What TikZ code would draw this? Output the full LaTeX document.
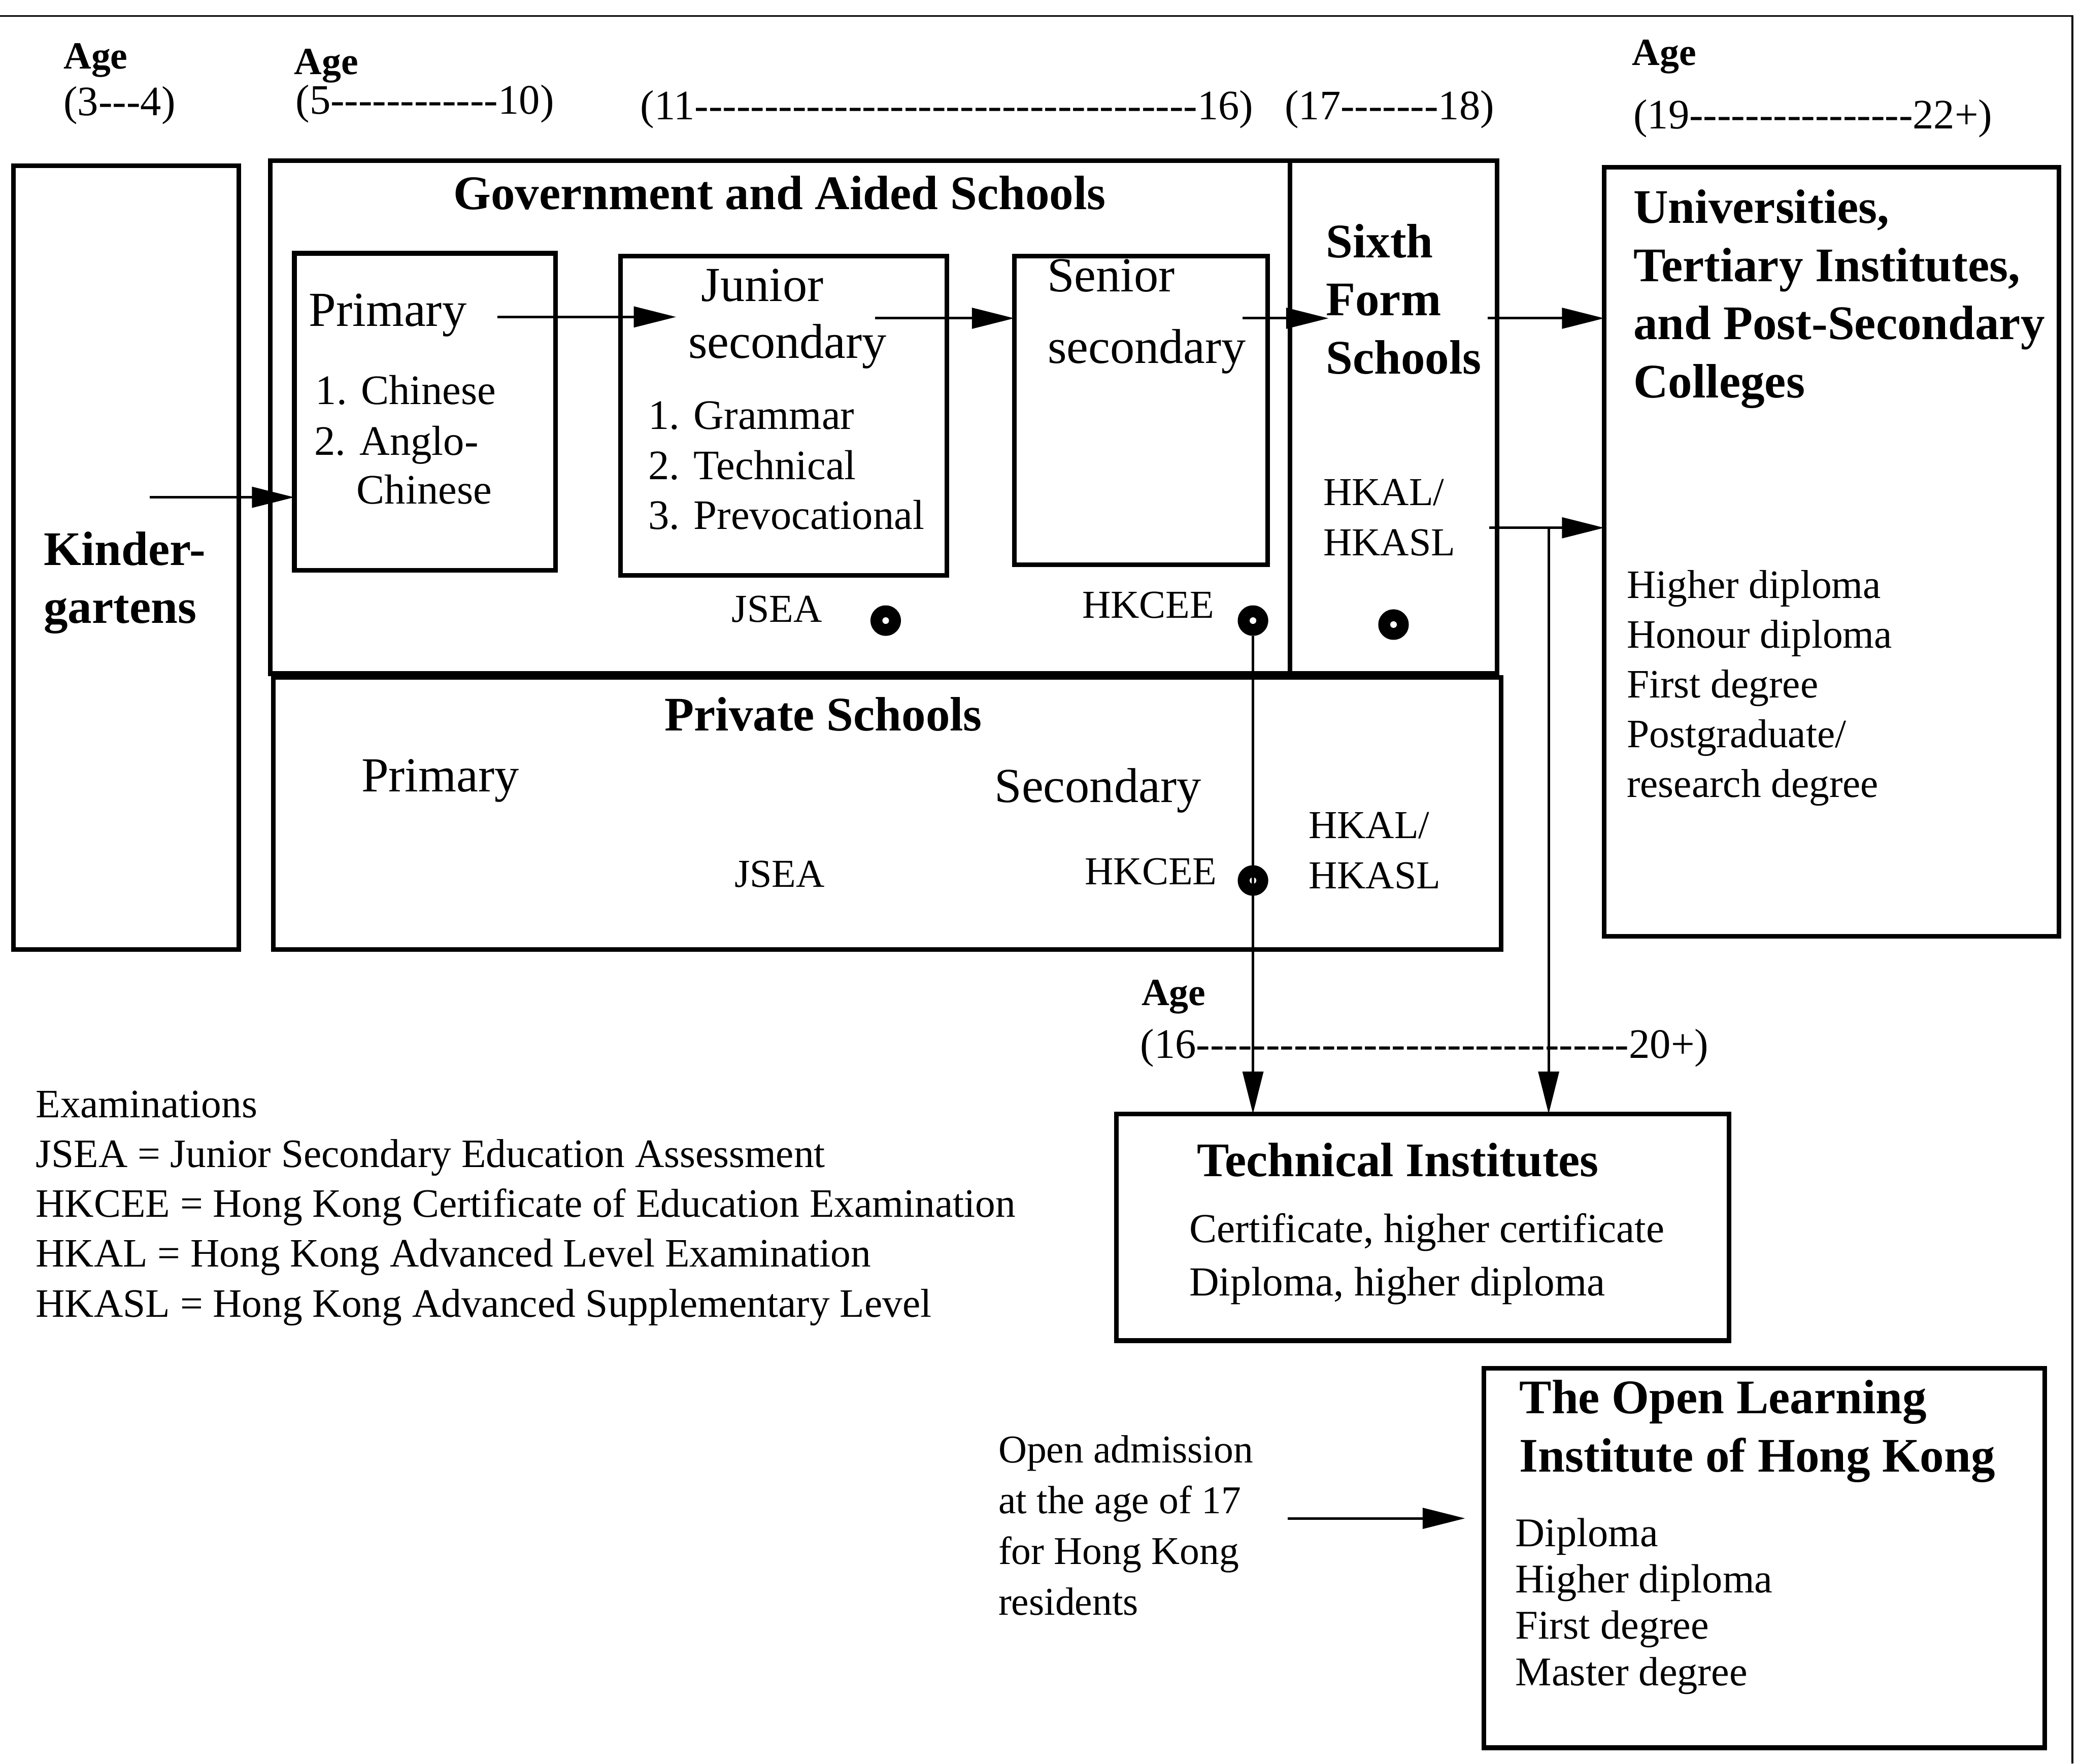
\documentclass[tikz,border=0pt]{standalone}
\usepackage{fontspec}
\setmainfont{Liberation Serif}
\newfontfamily\rngfont{Liberation Serif}[Ligatures=TeXOff]
\usetikzlibrary{fit,arrows.meta}
\begin{document}
\begin{tikzpicture}[x=0.02cm,y=-0.02cm,
  box/.style={draw,line width=2pt,inner sep=0pt,outer sep=0pt},
  tx/.style={inner sep=0pt,outer sep=0pt,anchor=base west,align=left,font=\fontsize{17}{21.4}\selectfont},
  txc/.style={inner sep=0pt,outer sep=0pt,anchor=base,font=\fontsize{17}{21.4}\selectfont},
  lst/.style={inner sep=0pt,outer sep=0pt,anchor=base west,align=left,font=\fontsize{18}{21.4}\selectfont},
  big/.style={inner sep=0pt,outer sep=0pt,anchor=base,font=\fontsize{21}{25}\selectfont},
  hd/.style={inner sep=0pt,outer sep=0pt,anchor=base west,align=left,font=\bfseries\fontsize{20.7}{25}\selectfont},
  hdc/.style={inner sep=0pt,outer sep=0pt,anchor=base,font=\bfseries\fontsize{20.7}{25}\selectfont},
  agel/.style={inner sep=0pt,outer sep=0pt,anchor=base west,font=\bfseries\fontsize{16.5}{20}\selectfont},
  rng/.style={inner sep=0pt,outer sep=0pt,anchor=base west,font=\rngfont\fontsize{18}{22}\selectfont},
  arr/.style={line width=1.1pt,-{Triangle[length=0.64cm,width=0.31cm]}},
  ln/.style={line width=1.1pt},
  dot/.style={circle,fill=black,inner sep=0pt,outer sep=0pt,minimum size=0.46cm,
    path picture={\fill[white] (path picture bounding box.center) circle (0.05cm);}}
]
\useasboundingbox (0,0) rectangle (1568,1330);
% frame
\draw[line width=0.7pt] (0,12) -- (1563,12) -- (1563,1330);

% ages
\node[agel] (ag1) at (48,52) {Age};
\node[rng] (r1) at (48,87) {(3---4)};
\node[agel] (ag2) at (222,56) {Age};
\node[rng] (r2) at (223,86) {(5------------10)};
\node[rng] (r3) at (483,90) {(11------------------------------------16)};
\node[rng] (r4) at (969,90) {(17-------18)};
\node[agel] (ag3) at (1231,49) {Age};
\node[rng] (r5) at (1232,97) {(19----------------22+)};

% boxes
\node[box,fit={(10,125) (180,716)}] (kg) {};
\node[box,fit={(204,121) (973,508)}] (gov) {};
\node[box,fit={(973,121) (1129,508)}] (sixth) {};
\node[box,fit={(206,511) (1132,716)}] (priv) {};
\node[box,fit={(222,191) (419,430)}] (prim) {};
\node[box,fit={(468,193) (714,434)}] (jun) {};
\node[box,fit={(765,193) (956,426)}] (sen) {};
\node[box,fit={(1210,126) (1553,706)}] (uni) {};
\node[box,fit={(842,840) (1304,1011)}] (tech) {};
\node[box,fit={(1119,1032) (1542,1318)}] (oli) {};

% kindergarten (multi-line nodes are placed by the baseline of their last line)
\node[hd] (kgt) at (33,470) {Kinder-\\gartens};

% government
\node[hdc] (govt) at (588,158) {Government and Aided Schools};
\node[big,anchor=base west] (primt) at (233,246) {Primary};
\node[lst] (priml) at (238,305) {1. Chinese};
\node[lst] (prim2) at (237,343) {2. Anglo-};
\node[lst] (prim3) at (269,380) {Chinese};
\node[big] (junt1) at (575,227) {Junior};
\node[big] (junt2) at (594,270) {secondary};
\node[lst] (junl) at (489,399) {1. Grammar\\2. Technical\\3. Prevocational};
\node[big] (sent1) at (838,220) {Senior};
\node[big] (sent2) at (865,274) {secondary};
\node[txc] (jseag) at (586,469) {JSEA};
\node[txc] (hkceeg) at (866,466) {HKCEE};
\node[dot] (d1) at (668,468) {};
\node[dot] (d2) at (945,468) {};

% sixth form
\node[hd] (sixt) at (1000,282) {Sixth\\Form\\Schools};
\node[tx,font=\fontsize{17}{21.6}\selectfont] (sixl) at (998,419) {HKAL/\\HKASL};
\node[dot] (d3) at (1051,471) {};

% private
\node[hdc] (privt) at (621,551) {Private Schools};
\node[big] (privp) at (332,597) {Primary};
\node[big] (privs) at (828,605) {Secondary};
\node[txc] (jseap) at (588,669) {JSEA};
\node[txc] (hkceep) at (868,667) {HKCEE};
\node[tx,font=\fontsize{17}{21.6}\selectfont] (privl) at (987,670) {HKAL/\\HKASL};
\node[dot] (d4) at (945,664) {};

% universities
\node[hd] (unit) at (1232,300) {Universities,\\Tertiary Institutes,\\and Post-Secondary\\Colleges};
\node[tx,font=\fontsize{17.3}{21.3}\selectfont] (unil) at (1227,601) {Higher diploma\\Honour diploma\\First degree\\Postgraduate/\\research degree};

% technical
\node[agel] (ag4) at (861,758) {Age};
\node[rng] (r6) at (860,798) {(16-------------------------------20+)};
\node[hd] (techt) at (903,887) {Technical Institutes};
\node[tx,font=\fontsize{17.7}{22.8}\selectfont] (techl) at (897,977) {Certificate, higher certificate\\Diploma, higher diploma};

% open learning
\node[hd] (olit) at (1146,1110) {The Open Learning\\Institute of Hong Kong};
\node[tx,font=\fontsize{17.5}{19.9}\selectfont] (olil) at (1143,1271) {Diploma\\Higher diploma\\First degree\\Master degree};
\node[tx,font=\fontsize{16.9}{21.8}\selectfont] (open) at (753,1218) {Open admission\\at the age of 17\\for Hong Kong\\residents};

% examinations
\node[tx,font=\fontsize{17.3}{21.4}\selectfont] (exam) at (27,993) {Examinations\\JSEA = Junior Secondary Education Assessment\\HKCEE = Hong Kong Certificate of Education Examination\\HKAL = Hong Kong Advanced Level Examination\\HKASL = Hong Kong Advanced Supplementary Level};

% connectors
\coordinate (c1) at (113,375);
\coordinate (c2) at (375,239);
\coordinate (c3) at (660,240);
\coordinate (c4) at (937,240);
\coordinate (c5) at (1122,240);
\coordinate (c6) at (1123,398);
\coordinate (c7) at (1168,398);
\coordinate (c8) at (971,1145);
\coordinate (c2e) at (510,239);
\coordinate (c4e) at (1002,240);
\coordinate (c8e) at (1105,1145);
\draw[arr] (c1) -- (c1 -| prim.west);
\draw[arr] (c2) -- (c2e);
\draw[arr] (c3) -- (c3 -| sen.west);
\draw[arr] (c4) -- (c4e);
\draw[arr] (c5) -- (c5 -| uni.west);
\draw[arr] (c6) -- (c6 -| uni.west);
\draw[arr] (c7) -- (c7 |- tech.north);
\draw[arr] (d2) -- (d2 |- tech.north);
\draw[arr] (c8) -- (c8e);
\end{tikzpicture}
\end{document}
